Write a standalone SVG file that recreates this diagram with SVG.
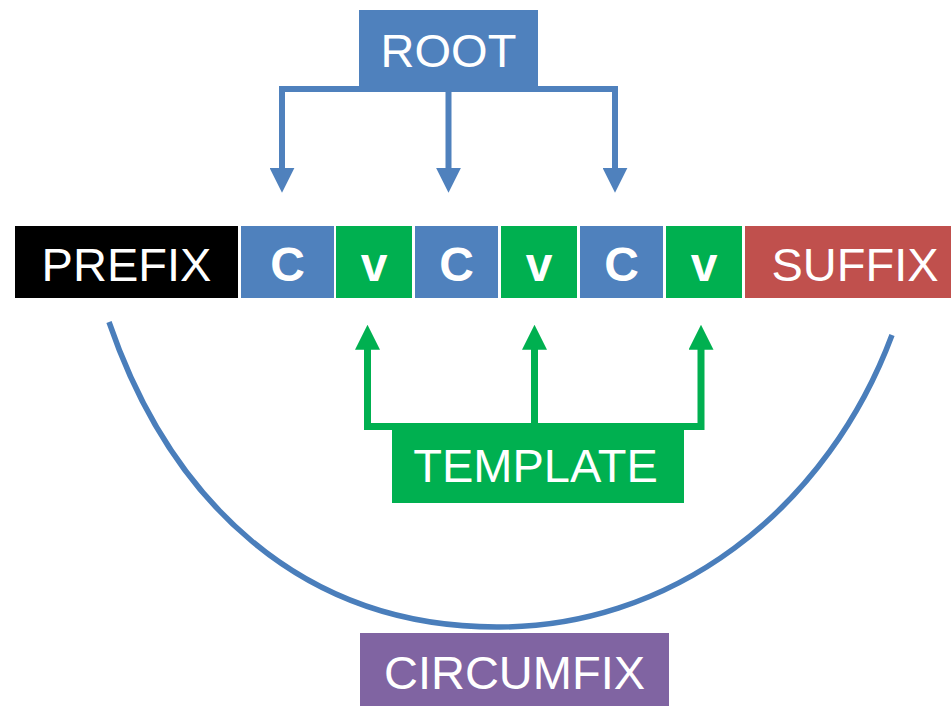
<svg xmlns="http://www.w3.org/2000/svg" width="951" height="706" viewBox="0 0 951 706">
  <style>
    .lbl { font-family: "Liberation Sans", Arial, sans-serif; font-size: 47px; fill: #ffffff; text-anchor: middle; }
    .seg { font-family: "Liberation Sans", Arial, sans-serif; font-size: 48px; font-weight: bold; fill: #ffffff; text-anchor: middle; }
    .blue { fill: #4F81BD; }
    .green { fill: #00B050; }
    .root-link { fill: none; stroke: #4F81BD; stroke-width: 6; stroke-linejoin: miter; }
    .tmpl-link { fill: none; stroke: #00B050; stroke-width: 7; stroke-linejoin: miter; }
    .circ-link { fill: none; stroke: #4A7EBB; stroke-width: 5.5; }
  </style>
  <defs>
    <marker id="headBlue" viewBox="0 0 25 25" refX="1" refY="12.5" markerWidth="25" markerHeight="25" markerUnits="userSpaceOnUse" orient="auto-start-reverse">
      <path d="M0,0 L25,12.5 L0,25 Z" fill="#4F81BD"/>
    </marker>
    <marker id="headGreen" viewBox="0 0 25 25" refX="1" refY="12.5" markerWidth="25" markerHeight="25" markerUnits="userSpaceOnUse" orient="auto-start-reverse">
      <path d="M0,0 L25,12.5 L0,25 Z" fill="#00B050"/>
    </marker>
  </defs>

  <!-- connectors -->
  <g id="connectors">
    <!-- root consonants -->
    <path class="root-link" d="M282,168.7 V89 H615 V168.7" marker-start="url(#headBlue)" marker-end="url(#headBlue)"/>
    <path class="root-link" d="M448.5,89 V168.7" marker-end="url(#headBlue)"/>
    <!-- template vowels -->
    <path class="tmpl-link" d="M367.5,348.7 V426.5 H701 V348.7" marker-start="url(#headGreen)" marker-end="url(#headGreen)"/>
    <path class="tmpl-link" d="M534.5,426.5 V348.7" marker-end="url(#headGreen)"/>
    <!-- circumfix span from prefix to suffix -->
    <path class="circ-link" d="M109,322 C170,500 300,627 497,627 A425,474 0 0 0 892,335"/>
  </g>

  <g id="root">
    <rect class="blue" x="359" y="10" width="179" height="78"/>
    <text class="lbl" x="448.5" y="66.5">ROOT</text>
  </g>

  <g id="prefix">
    <rect x="15" y="226" width="223" height="72" fill="#000000"/>
    <text class="lbl" x="126.5" y="281">PREFIX</text>
  </g>
  <g id="c1">
    <rect class="blue" x="241" y="226" width="93" height="72"/>
    <text class="seg" x="287.5" y="281">C</text>
  </g>
  <g id="v1">
    <rect class="green" x="336" y="226" width="76" height="72"/>
    <text class="seg" x="374" y="281">v</text>
  </g>
  <g id="c2">
    <rect class="blue" x="415" y="226" width="83" height="72"/>
    <text class="seg" x="456.5" y="281">C</text>
  </g>
  <g id="v2">
    <rect class="green" x="501" y="226" width="76" height="72"/>
    <text class="seg" x="539" y="281">v</text>
  </g>
  <g id="c3">
    <rect class="blue" x="580" y="226" width="83" height="72"/>
    <text class="seg" x="621.5" y="281">C</text>
  </g>
  <g id="v3">
    <rect class="green" x="666" y="226" width="76" height="72"/>
    <text class="seg" x="704" y="281">v</text>
  </g>
  <g id="suffix">
    <rect x="745" y="226" width="220" height="72" fill="#C0504D"/>
    <text class="lbl" x="855" y="281">SUFFIX</text>
  </g>

  <g id="template">
    <rect class="green" x="392" y="430" width="292" height="73"/>
    <text class="lbl" x="535.5" y="482.3">TEMPLATE</text>
  </g>

  <g id="circumfix">
    <rect x="360" y="633" width="309" height="73" fill="#8064A2"/>
    <text class="lbl" x="514.5" y="689.3">CIRCUMFIX</text>
  </g>
</svg>
